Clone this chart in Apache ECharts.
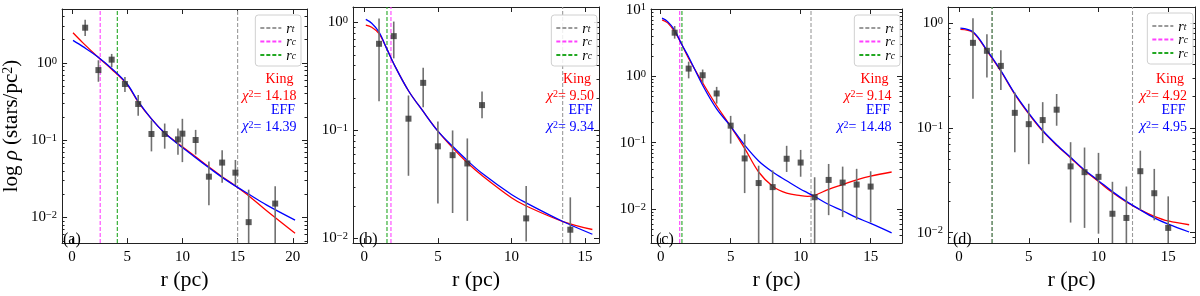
<!DOCTYPE html>
<html><head><meta charset="utf-8">
<script src="https://cdn.jsdelivr.net/npm/echarts@6/dist/echarts.min.js"></script>
<style>html,body{margin:0;padding:0;background:#fff}#c{width:1200px;height:296px}</style>
</head><body><div id="c"></div>
<script>
// ---------- DATA (y values are log10 of rho) ----------
// Panel (a)
const rA      = [1.2, 2.4, 3.6, 4.8, 6.0, 7.2, 8.4, 9.6, 10.0, 11.2, 12.4, 13.6, 14.8, 16.0, 18.4];
const logRhoA = [0.454, -0.094, 0.041, -0.274, -0.532, -0.92, -0.92, -0.99, -0.916, -0.998, -1.472, -1.29, -1.42, -2.06, -1.82];
const errHiA  = [0.556, 0.033, 0.115, -0.184, -0.417, -0.744, -0.785, -0.85, -0.724, -0.867, -1.276, -1.13, -1.256, -1.64, -1.595];
const errLoA  = [0.348, -0.245, -0.057, -0.376, -0.683, -1.145, -1.11, -1.19, -1.284, -1.186, -1.84, -1.55, -1.58, -3, -3];
const curveRA = [0.1, 1.0, 2.3, 3.6, 5.0, 6.0, 7.2, 8.4, 10.0, 11.2, 12.5, 13.6, 15.0, 16.0, 17.6, 20.2];
const kingA   = [0.389, 0.258, 0.082, -0.082, -0.282, -0.507, -0.724, -0.908, -1.084, -1.215, -1.358, -1.472, -1.611, -1.718, -1.910, -2.204];
const effA    = [0.290, 0.209, 0.082, -0.074, -0.274, -0.499, -0.724, -0.908, -1.096, -1.227, -1.366, -1.481, -1.611, -1.697, -1.836, -2.033];
const linesA  = {rt: 15.0, rc1: 2.56, rc2: 4.11};
const chiA    = ['14.18', '14.39'];

// Panel (b)
const rB      = [1, 2, 3, 4, 5, 6, 7, 8, 11, 14];
const logRhoB = [-0.197, -0.126, -0.891, -0.559, -1.147, -1.229, -1.306, -0.765, -1.815, -1.92];
const errHiB  = [0.038, 0.009, -0.676, -0.418, -0.918, -1.0, -1.074, -0.638, -1.515, -1.62];
const errLoB  = [-0.73, -0.332, -1.42, -0.785, -1.676, -1.765, -1.838, -0.888, -2.03, -2.3];
const curveRB = [0.1, 0.5, 1.0, 1.5, 2.0, 3.0, 4.0, 5.0, 6.0, 7.0, 8.0, 10.0, 11.0, 13.5, 15.5];
const kingB   = [-0.024, -0.044, -0.103, -0.235, -0.382, -0.632, -0.824, -1.006, -1.162, -1.300, -1.418, -1.624, -1.700, -1.844, -1.918];
const effB    = [0.029, -0.006, -0.088, -0.235, -0.382, -0.632, -0.824, -1.006, -1.147, -1.279, -1.397, -1.594, -1.671, -1.844, -1.962];
const linesB  = {rt: 13.48, rc1: 1.81, rc2: 1.54};
const chiB    = ['9.50', '9.34'];

// Panel (c)
const rC      = [1, 2, 3, 4, 5, 6, 7, 8, 9, 10, 11, 12, 13, 14, 15];
const logRhoC = [0.654, 0.114, 0.014, -0.26, -0.744, -1.237, -1.607, -1.668, -1.242, -1.299, -1.82, -1.56, -1.6, -1.63, -1.66];
const errHiC  = [0.754, 0.218, 0.1, -0.161, -0.597, -0.872, -1.346, -1.417, -1.047, -1.109, -1.52, -1.32, -1.36, -1.393, -1.43];
const errLoC  = [0.564, -0.033, -0.1, -0.412, -1.014, -1.758, -3, -3, -1.44, -1.512, -3, -2.09, -2.12, -2.16, -2.2];
const curveRC = [0.1, 0.5, 1, 1.5, 2, 3, 4, 5, 6, 7, 8, 9, 10, 10.5, 11, 12, 13, 14, 15, 16.5];
const kingC   = [0.848, 0.801, 0.668, 0.479, 0.265, -0.100, -0.445, -0.754, -1.085, -1.441, -1.654, -1.758, -1.796, -1.806, -1.791, -1.701, -1.630, -1.559, -1.502, -1.441];
const effC    = [0.872, 0.820, 0.692, 0.479, 0.289, -0.137, -0.493, -0.754, -1.038, -1.275, -1.441, -1.573, -1.701, -1.754, -1.810, -1.929, -2.024, -2.128, -2.213, -2.355];
const linesC  = {rt: 10.74, rc1: 1.36, rc2: 1.52};
const chiC    = ['9.14', '14.48'];

// Panel (d)
const rD      = [1, 2, 3, 4, 5, 6, 7, 8, 9, 10, 11, 12, 13, 14, 15];
const logRhoD = [-0.189, -0.265, -0.409, -0.857, -0.965, -0.926, -0.827, -1.368, -1.423, -1.468, -1.82, -1.86, -1.414, -1.624, -1.955];
const errHiD  = [0.045, -0.108, -0.259, -0.662, -0.77, -0.755, -0.677, -1.137, -1.188, -1.239, -1.515, -1.56, -1.218, -1.392, -1.654];
const errLoD  = [-0.722, -0.52, -0.64, -1.233, -1.347, -1.146, -0.98, -1.904, -1.955, -2.01, -3, -3, -1.783, -1.883, -3];
const curveRD = [0.1, 1, 2, 3, 4, 5, 6, 7, 8, 9, 10, 11, 12, 13, 14, 15, 16.5];
const kingD   = [-0.060, -0.090, -0.265, -0.460, -0.680, -0.866, -1.032, -1.167, -1.287, -1.408, -1.513, -1.618, -1.708, -1.783, -1.844, -1.889, -1.925];
const effD    = [-0.048, -0.084, -0.259, -0.454, -0.674, -0.860, -1.026, -1.161, -1.281, -1.402, -1.504, -1.609, -1.702, -1.783, -1.859, -1.919, -1.994];
const linesD  = {rt: 12.44, rc1: 2.37, rc2: 2.37};
const chiD    = ['4.92', '4.95'];

const xTicks = {a: [0, 5, 10, 15, 20], b: [0, 5, 10, 15], c: [0, 5, 10, 15], d: [0, 5, 10, 15]};
const panelLabels = ['(a)', '(b)', '(c)', '(d)'];

// ---------- LAYOUT ----------
const FONT = 'Liberation Serif';
const panels = [
  {key:'a', r:rA, y:logRhoA, hi:errHiA, lo:errLoA, cr:curveRA, king:kingA, eff:effA, lines:linesA, chi:chiA,
   grid:{left:58, top:9, width:249, height:247}, xr:[-0.89, 21.28], yr:[-2.331, 0.696],
   legend:{right:899, top:15}, ax:296.5, lab:63},
  {key:'b', r:rB, y:logRhoB, hi:errHiB, lo:errLoB, cr:curveRB, king:kingB, eff:effB, lines:linesB, chi:chiB,
   grid:{left:353, top:7, width:246, height:248}, xr:[-0.77, 15.95], yr:[-2.044, 0.144],
   legend:{right:603, top:15}, ax:594, lab:359},
  {key:'c', r:rC, y:logRhoC, hi:errHiC, lo:errLoC, cr:curveRC, king:kingC, eff:effC, lines:linesC, chi:chiC,
   grid:{left:651, top:9, width:251, height:248}, xr:[-0.69, 17.24], yr:[-2.51, 1.01],
   legend:{right:300, top:15}, ax:891.5, lab:656},
  {key:'d', r:rD, y:logRhoD, hi:errHiD, lo:errLoD, cr:curveRD, king:kingD, eff:effD, lines:linesD, chi:chiD,
   grid:{left:948, top:7, width:247, height:250}, xr:[-0.79, 16.92], yr:[-2.10, 0.153],
   legend:{right:7, top:13}, ax:1187, lab:953}
];

const lineColors = {rt:'#9a9a9a', rc1:'#ff40ff', rc2:'#22a822'};
const AXC = '#222';

function majors(yr){ const out=[]; for(let d=Math.ceil(yr[0]); d<=Math.floor(yr[1]); d++) out.push(d); return out; }
function minors(yr){ const out=[]; for(let d=Math.floor(yr[0]); d<=Math.ceil(yr[1]); d++){ for(let k=2;k<=9;k++){ const v=d+Math.log10(k); if(v>yr[0]&&v<yr[1]) out.push(v);} } return out; }

const supRich = {
  b:{fontFamily:FONT, fontSize:15, lineHeight:15, verticalAlign:'bottom', color:'#000'},
  e:{fontFamily:FONT, fontSize:10.5, lineHeight:9, verticalAlign:'top', padding:[0,0,11,0], color:'#000'}
};
function expLabel(v){ const n=Math.round(v); return '{b|10}{e|' + (n<0 ? '\u2212'+(-n) : n) + '}'; }

const grid=[], xAxis=[], yAxis=[], series=[], legend=[], graphic=[];

panels.forEach((p, i) => {
  grid.push(Object.assign({}, p.grid));
  const xt = xTicks[p.key];
  const commonX = {type:'value', gridIndex:i, min:p.xr[0], max:p.xr[1], splitLine:{show:false},
    axisLine:{show:true, onZero:false, lineStyle:{color:AXC, width:1}}};
  xAxis.push(Object.assign({}, commonX, {position:'bottom',
    axisTick:{show:true, inside:true, length:5, customValues:xt, lineStyle:{color:AXC}},
    axisLabel:{show:true, customValues:xt, margin:6, fontFamily:FONT, fontSize:15, color:'#000', formatter:v=>String(Math.round(v))},
    name:'r (pc)', nameLocation:'middle', nameGap:25,
    nameTextStyle:{fontFamily:FONT, fontSize:22, color:'#000', verticalAlign:'top'}}));
  xAxis.push(Object.assign({}, commonX, {position:'top',
    axisTick:{show:true, inside:true, length:5, customValues:xt, lineStyle:{color:AXC}},
    axisLabel:{show:false}}));

  const mj = majors(p.yr), mn = minors(p.yr);
  const commonY = {type:'value', gridIndex:i, min:p.yr[0], max:p.yr[1], splitLine:{show:false}};
  const leftMain = Object.assign({}, commonY, {position:'left',
    axisLine:{show:true, onZero:false, lineStyle:{color:AXC, width:1}},
    axisTick:{show:true, inside:true, length:5, customValues:mj, lineStyle:{color:AXC}},
    axisLabel:{show:true, customValues:mj, margin:5, formatter:expLabel, rich:supRich}});
  if (i === 0) {
    leftMain.name = 'log {g|\u03C1} (stars/pc{e|2})';
    leftMain.nameLocation = 'middle';
    leftMain.nameGap = 34;
    leftMain.nameTextStyle = {fontFamily:FONT, fontSize:21, color:'#000',
      rich:{g:{fontFamily:FONT, fontSize:21, fontStyle:'italic', lineHeight:17, verticalAlign:'bottom', color:'#000'},
            e:{fontFamily:FONT, fontSize:14, lineHeight:11, verticalAlign:'top', padding:[0,0,12,0], color:'#000'}}};
  }
  yAxis.push(leftMain);
  yAxis.push(Object.assign({}, commonY, {position:'left', axisLine:{show:false, onZero:false},
    axisTick:{show:true, inside:true, length:2.5, customValues:mn, lineStyle:{color:AXC}}, axisLabel:{show:false}}));
  yAxis.push(Object.assign({}, commonY, {position:'right',
    axisLine:{show:true, onZero:false, lineStyle:{color:AXC, width:1}},
    axisTick:{show:true, inside:true, length:5, customValues:mj, lineStyle:{color:AXC}}, axisLabel:{show:false}}));
  yAxis.push(Object.assign({}, commonY, {position:'right', axisLine:{show:false, onZero:false},
    axisTick:{show:true, inside:true, length:2.5, customValues:mn, lineStyle:{color:AXC}}, axisLabel:{show:false}}));

  const xi = 2*i, yi = 4*i;
  // vertical reference lines (legend entries): span the full y range of the axis
  ['rt','rc1','rc2'].forEach(k => {
    series.push({type:'line', name:k, xAxisIndex:xi, yAxisIndex:yi, symbol:'none', showSymbol:false,
      data:[[p.lines[k], p.yr[0]], [p.lines[k], p.yr[1]]],
      lineStyle:{type:[4,2], color:lineColors[k], width:1.1},
      itemStyle:{color:'rgba(0,0,0,0)', borderWidth:0, opacity:0},
      z: k==='rc2'?3:2, silent:true});
  });
  // model curves
  series.push({type:'line', name:'King'+i, xAxisIndex:xi, yAxisIndex:yi, smooth:0.35, showSymbol:false, clip:true,
    data:p.cr.map((x,j)=>[x, p.king[j]]), lineStyle:{color:'#ff0000', width:1.3}, itemStyle:{color:'#ff0000'}, z:4});
  series.push({type:'line', name:'EFF'+i, xAxisIndex:xi, yAxisIndex:yi, smooth:0.35, showSymbol:false, clip:true,
    data:p.cr.map((x,j)=>[x, p.eff[j]]), lineStyle:{color:'#0000ff', width:1.3}, itemStyle:{color:'#0000ff'}, z:5});
  // error bars
  series.push({type:'custom', name:'err'+i, xAxisIndex:xi, yAxisIndex:yi, clip:true, z:6,
    data:p.r.map((x,j)=>[x, p.lo[j], p.hi[j]]),
    renderItem:(params, api) => {
      const a = api.coord([api.value(0), api.value(1)]);
      const b = api.coord([api.value(0), api.value(2)]);
      return {type:'line', shape:{x1:a[0], y1:a[1], x2:b[0], y2:b[1]}, style:{stroke:'#707070', lineWidth:1.6}};
    }});
  // data points
  series.push({type:'scatter', name:'obs'+i, xAxisIndex:xi, yAxisIndex:yi, symbol:'rect', symbolSize:6,
    data:p.r.map((x,j)=>[x, p.y[j]]), itemStyle:{color:'#333333'}, z:7});

  legend.push({orient:'vertical', right:p.legend.right, top:p.legend.top, data:['rt','rc1','rc2'],
    itemWidth:21, itemHeight:8, itemGap:-3.5, padding:[4,5,3,4], selectedMode:false,
    itemStyle:{opacity:0, color:'rgba(0,0,0,0)', borderWidth:0},
    backgroundColor:'rgba(255,255,255,0.85)', borderColor:'#d0d0d0', borderWidth:1, borderRadius:3,
    formatter: n => n==='rt' ? '{i|r}{s|t}' : '{i|r}{s|c}',
    textStyle:{color:'#000', fontSize:12, lineHeight:12, height:12, rich:{
      i:{fontFamily:FONT, fontSize:14, fontStyle:'italic', lineHeight:12, verticalAlign:'top', color:'#000'},
      s:{fontFamily:FONT, fontSize:9.5, fontStyle:'italic', lineHeight:8, verticalAlign:'bottom', padding:[5,0,0,0], color:'#000'}}}});

  // annotations
  const chiRich = col => ({
    c:{fontFamily:FONT, fontSize:15, fontStyle:'italic', lineHeight:14, verticalAlign:'bottom', fill:col, color:col},
    s:{fontFamily:FONT, fontSize:10, lineHeight:8, verticalAlign:'top', padding:[0,0,11,0], fill:col, color:col},
    n:{fontFamily:FONT, fontSize:14, lineHeight:14, verticalAlign:'bottom', fill:col, color:col}});
  graphic.push({type:'text', x:p.ax-3, y:79, z:50, style:{text:'King', font:'14px '+FONT, fill:'#ff0000', align:'right', verticalAlign:'middle'}});
  graphic.push({type:'text', x:p.ax, y:96.5, z:50, style:{text:'{c|\u03C7}{s|2}{n|= '+p.chi[0]+'}', rich:chiRich('#ff0000'), fill:'#ff0000', align:'right', verticalAlign:'middle'}});
  graphic.push({type:'text', x:p.ax-1.5, y:110.5, z:50, style:{text:'EFF', font:'14px '+FONT, fill:'#0000ff', align:'right', verticalAlign:'middle'}});
  graphic.push({type:'text', x:p.ax, y:127, z:50, style:{text:'{c|\u03C7}{s|2}{n|= '+p.chi[1]+'}', rich:chiRich('#0000ff'), fill:'#0000ff', align:'right', verticalAlign:'middle'}});
  graphic.push({type:'text', x:p.lab, y:240, z:50, style:{text:panelLabels[i], font:'16px '+FONT, fill:'#000', align:'left', verticalAlign:'middle'}});
});

const chart = echarts.init(document.getElementById('c'), null, {renderer:'canvas'});
chart.setOption({animation:false, backgroundColor:'#fff', grid, xAxis, yAxis, series, legend, graphic});
</script></body></html>
